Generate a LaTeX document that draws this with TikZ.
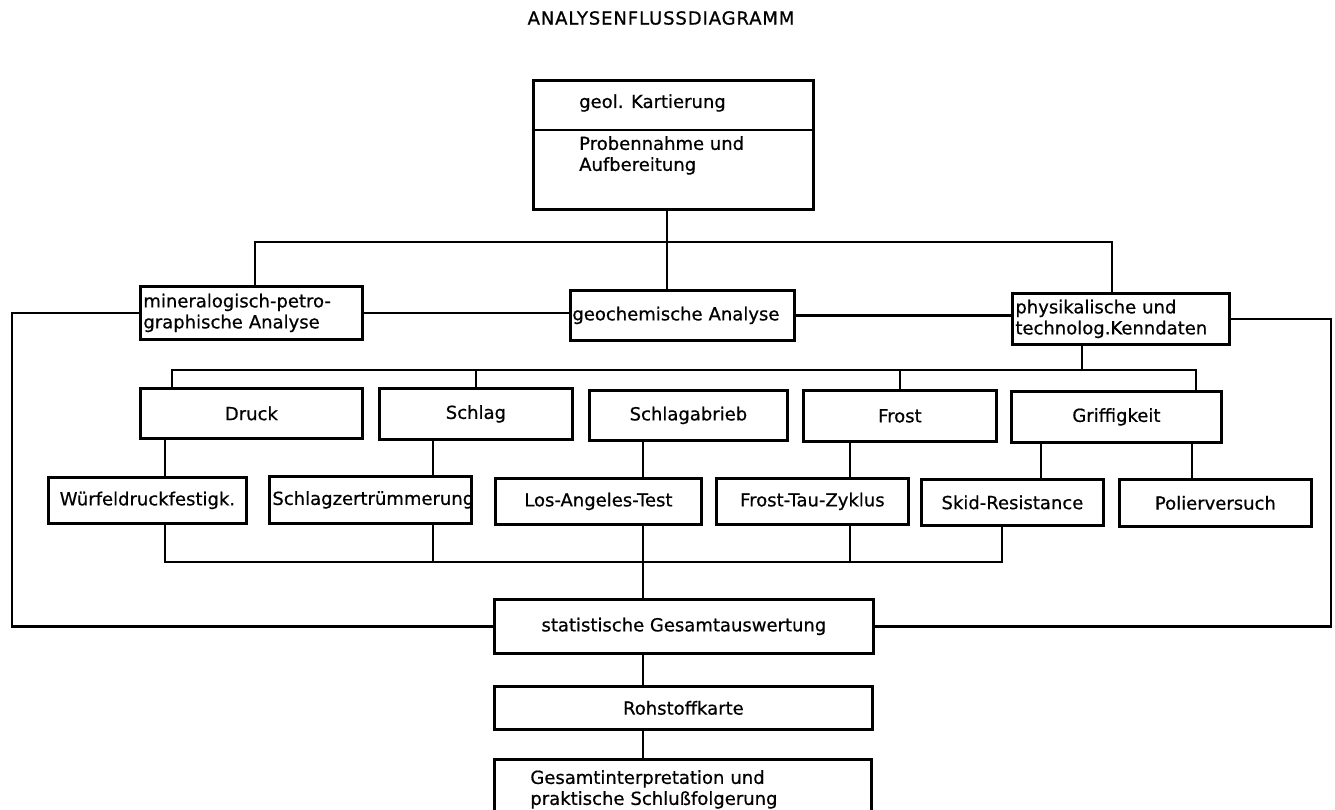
\documentclass[tikz,border=0pt]{standalone}
\usepackage{fontspec}
\setmainfont[FakeBold=0.6]{DejaVu Sans}
\newfontfamily\titlefont[LetterSpace=5,FakeBold=0.8]{DejaVu Sans}
\newcommand\fs{\fontsize{18}{21}\selectfont}
\begin{document}
\begin{tikzpicture}[x=1pt,y=-1pt,
  box/.style={draw, line width=2.8pt, inner sep=0pt, anchor=north west, font=\fs, align=center},
  lbox/.style={box, align=left},
  txt/.style={inner sep=0pt, font=\fs, align=left},
  ln/.style={line width=2.6pt}]
\clip (0,0) rectangle (1335,809);
\fill[white] (0,0) rectangle (1335,809);

\node[font=\titlefont\fontsize{18}{21}\selectfont, inner sep=0pt] (title) at (661,18) {ANALYSENFLUSSDIAGRAMM};

% top box
\node[box, minimum width=280pt, minimum height=129pt] (top) at (532,79) {};
\draw[line width=2.8pt] ([yshift=-51pt]top.north west) -- ([yshift=-51pt]top.north east);
\node[txt, anchor=west] (geol) at (579,103) {geol. Kartierung};
\node[txt, anchor=north west] (probe) at (579,136) {Probennahme und\\Aufbereitung};

% second level
\node[lbox, text width=216pt, inner xsep=3pt, minimum height=53pt] (min) at (139,285) {mineralogisch-petro-\\graphische Analyse};
\node[lbox, text width=220pt, inner xsep=2pt, minimum height=50pt] (geo) at (569,289) {geochemische Analyse};
\node[lbox, text width=211pt, inner xsep=3pt, minimum height=51pt] (phy) at (1011,292) {physikalische und\\technolog.Kenndaten};

% third level
\node[box, minimum width=222pt, minimum height=50pt] (drk) at (139,387) {Druck};
\node[box, minimum width=193pt, minimum height=51pt] (sch) at (378,387) {Schlag};
\node[box, minimum width=198pt, minimum height=50pt] (sab) at (588,389) {Schlagabrieb};
\node[box, minimum width=193pt, minimum height=51pt] (fro) at (802,389) {Frost};
\node[box, minimum width=210pt, minimum height=51pt] (grf) at (1010,390) {Griffigkeit};

% fourth level
\node[box, minimum width=198pt, minimum height=46pt] (wur) at (47,476) {Würfeldruckfestigk.};
\node[lbox, text width=196pt, inner xsep=3pt, minimum height=47pt] (szt) at (268,475) {Schlagzertrümmerung};
\node[box, minimum width=206pt, minimum height=46pt] (lat) at (494,477) {Los-Angeles-Test};
\node[box, minimum width=192pt, minimum height=46pt] (ftz) at (715,477) {Frost-Tau-Zyklus};
\node[box, minimum width=182pt, minimum height=46pt] (skd) at (920,478) {Skid-Resistance};
\node[box, minimum width=192pt, minimum height=47pt] (pol) at (1118,478) {Polierversuch};

% bottom
\node[box, minimum width=379pt, minimum height=54pt] (sta) at (493,598) {statistische Gesamtauswertung};
\node[box, minimum width=378pt, minimum height=43pt] (roh) at (493,685) {Rohstoffkarte};
\node[lbox, text width=305pt, inner xsep=36pt, minimum height=60pt] (ges) at (493,758) {Gesamtinterpretation und\\praktische Schlußfolgerung};

% coordinates
\coordinate (b1L) at (255,242);
\coordinate (b1M) at (667,242);
\coordinate (b1R) at (1112,242);
\coordinate (L) at (12,0);
\coordinate (R) at (1331,0);
\coordinate (b2L) at (172,370);
\coordinate (b2R) at (1196,370);
\coordinate (b2P) at (1082,370);
\coordinate (cA) at (165,562);
\coordinate (cB) at (433,562);
\coordinate (cC) at (643,562);
\coordinate (cD) at (850,562);
\coordinate (cE) at (1002,562);
\coordinate (gA) at (1041,0);
\coordinate (gB) at (1192,0);

% connectors
\draw[ln] (top.south -| b1M) -- (geo.north -| b1M);
\draw[ln] (min.north -| b1L) |- (b1R) -- (phy.north -| b1R);
\draw[ln] (min.east) -- (min.east -| geo.west);
\draw[ln] (geo.east) -- (geo.east -| phy.west);
\draw[ln] (min.west) -| (L |- sta.west) -- (sta.west);
\draw[ln] (phy.east) -| (R |- sta.east) -- (sta.east);

\draw[ln] (phy.south -| b2P) -- (b2P);
\draw[ln] (drk.north -| b2L) |- (b2R) -- (grf.north -| b2R);
\draw[ln] (sch.north) -- (sch.north |- b2L);
\draw[ln] (fro.north) -- (fro.north |- b2L);

\draw[ln] (drk.south -| cA) -- (wur.north -| cA);
\draw[ln] (sch.south -| cB) -- (szt.north -| cB);
\draw[ln] (sab.south -| cC) -- (lat.north -| cC);
\draw[ln] (fro.south -| cD) -- (ftz.north -| cD);
\draw[ln] (grf.south -| gA) -- (skd.north -| gA);
\draw[ln] (grf.south -| gB) -- (pol.north -| gB);

\draw[ln] (wur.south -| cA) |- (cE) -- (skd.south -| cE);
\draw[ln] (szt.south -| cB) -- (cB);
\draw[ln] (ftz.south -| cD) -- (cD);
\draw[ln] (lat.south -| cC) -- (sta.north -| cC);
\draw[ln] (sta.south -| cC) -- (roh.north -| cC);
\draw[ln] (roh.south -| cC) -- (ges.north -| cC);
\end{tikzpicture}
\end{document}
